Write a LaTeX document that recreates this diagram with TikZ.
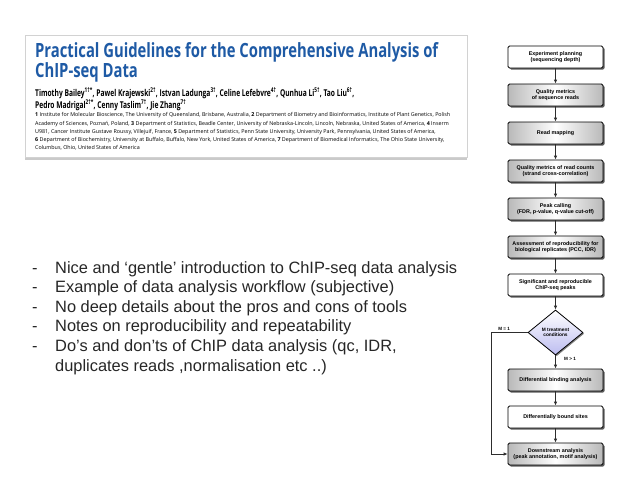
\documentclass[tikz,border=0pt]{standalone}
\usepackage{fontspec}
\setmainfont{Liberation Sans}
\newfontfamily\paperfont{Open Sans}
\usepackage{tikz}
\usetikzlibrary{shapes.geometric,arrows.meta,positioning,shadows}
\definecolor{titleblue}{RGB}{30,90,165}
\definecolor{lavender}{RGB}{188,188,240}
\definecolor{linegray}{RGB}{45,45,45}

\begin{document}
\begin{tikzpicture}[
    x=1pt, y=1pt,
    node distance=15.2pt,
    flow/.style={rectangle, draw=black, line width=0.8pt, rounded corners=1.5pt,
                 minimum width=95pt, minimum height=22pt, inner sep=1pt, align=center,
                 font=\fontsize{5.4}{6.4}\selectfont\bfseries,
                 drop shadow={shadow xshift=1.6pt, shadow yshift=-1.6pt, fill=black!80, opacity=0.8}},
    whitebox/.style={flow, fill=white},
    graybox/.style={flow, left color=gray!55, right color=gray!55, middle color=white},
    choice/.style={diamond, draw=black, line width=0.8pt, minimum width=55pt, minimum height=45pt,
                 inner sep=0pt, align=center, top color=white, bottom color=lavender,
                 font=\fontsize{4.8}{5.6}\selectfont\bfseries,
                 drop shadow={shadow xshift=1.2pt, shadow yshift=-1.2pt, fill=black!70, opacity=0.7}},
    arrow/.style={-{Latex[length=4pt,width=3.5pt]}, draw=linegray, line width=0.8pt},
    condlabel/.style={font=\fontsize{4.6}{5}\selectfont\bfseries, inner sep=0.5pt},
    papertext/.style={anchor=north west, inner sep=0pt, align=left}
]
\useasboundingbox (0,0) rectangle (640,-480);

% Paper header
\node[rectangle, draw=gray!35, fill=white, minimum width=442pt, minimum height=122pt,
      drop shadow={shadow xshift=0pt, shadow yshift=-3pt, fill=gray!70, opacity=0.6}]
      (paper) at (246,-96) {};
\begin{scope}[shift={(35,0)}, transform shape]
\node[papertext, xscale=0.756, text=titleblue, font=\fontsize{19.6}{18}\selectfont\paperfont\bfseries]
    (title) at (0,-42) {Practical Guidelines for the Comprehensive Analysis of\\ChIP-seq Data};
\node[papertext, xscale=0.71, font=\fontsize{9.4}{9.8}\selectfont\paperfont\bfseries] (authors) at (0,-87)
    {Timothy Bailey\textsuperscript{1\textdagger*}, Pawel Krajewski\textsuperscript{2\textdagger},
     Istvan Ladunga\textsuperscript{3\textdagger}, Celine Lefebvre\textsuperscript{4\textdagger},
     Qunhua Li\textsuperscript{5\textdagger}, Tao Liu\textsuperscript{6\textdagger},\\
     Pedro Madrigal\textsuperscript{2\textdagger*}, Cenny Taslim\textsuperscript{7\textdagger},
     Jie Zhang\textsuperscript{7\textdagger}};
\end{scope}
\node[papertext, font=\fontsize{5.36}{8.2}\selectfont\paperfont] (affil) at (35,-112.5)
    {\textbf{1} Institute for Molecular Bioscience, The University of Queensland, Brisbane, Australia, \textbf{2} Department of Biometry and Bioinformatics, Institute of Plant Genetics, Polish\\
     Academy of Sciences, Poznań, Poland, \textbf{3} Department of Statistics, Beadle Center, University of Nebraska-Lincoln, Lincoln, Nebraska, United States of America, \textbf{4} Inserm\\
     U981, Cancer Institute Gustave Roussy, Villejuif, France, \textbf{5} Department of Statistics, Penn State University, University Park, Pennsylvania, United States of America,\\
     \textbf{6} Department of Biochemistry, University at Buffalo, Buffalo, New York, United States of America, \textbf{7} Department of Biomedical Informatics, The Ohio State University,\\
     Columbus, Ohio, United States of America};

% Notes
\node[anchor=base west, inner sep=0pt, text=black!85, font=\fontsize{16.4}{19.6}\selectfont]
    (notes) at (32,-273) {\begin{tabular}[t]{@{}p{23pt}@{}l@{}}
    - & Nice and ‘gentle’ introduction to ChIP-seq data analysis\\
    - & Example of data analysis workflow (subjective)\\
    - & No deep details about the pros and cons of tools\\
    - & Notes on reproducibility and repeatability\\
    - & Do’s and don’ts of ChIP data analysis (qc, IDR,\\
      & duplicates reads ,normalisation etc ..)
    \end{tabular}};

% Workflow
\node[whitebox] (plan) at (555.5,-57) {Experiment planning\\(sequencing depth)};
\node[graybox, below=of plan] (seqqc) {Quality metrics\\of sequence reads};
\node[graybox, below=of seqqc] (mapping) {Read mapping};
\node[graybox, below=of mapping] (countqc) {Quality metrics of read counts\\(strand cross-correlation)};
\node[graybox, below=of countqc] (peaks) {Peak calling\\(FDR, p-value, q-value cut-off)};
\node[graybox, below=of peaks] (repro) {Assessment of reproducibility for\\biological replicates (PCC, IDR)};
\node[whitebox, below=of repro] (sigpeaks) {Significant and reproducible\\ChIP-seq peaks};
\node[choice, below=13.2pt of sigpeaks] (treat) {M treatment\\conditions};
\node[graybox, below=13.2pt of treat] (diffbind) {Differential binding analysis};
\node[whitebox, below=14.2pt of diffbind] (diffsites) {Differentially bound sites};
\node[graybox, below=14.2pt of diffsites] (downstream) {Downstream analysis\\(peak annotation, motif analysis)};

\node[condlabel, above left=1pt and 17pt of treat.west] (mone) {M = 1};
\node[condlabel, below right=1pt and 8pt of treat.south] (mmany) {M > 1};

% Arrows
\draw[arrow] (plan) -- (seqqc);
\draw[arrow] (seqqc) -- (mapping);
\draw[arrow] (mapping) -- (countqc);
\draw[arrow] (countqc) -- (peaks);
\draw[arrow] (peaks) -- (repro);
\draw[arrow] (repro) -- (sigpeaks);
\draw[arrow] (sigpeaks) -- (treat);
\draw[arrow] (treat) -- (diffbind);
\draw[arrow] (diffbind) -- (diffsites);
\draw[arrow] (diffsites) -- (downstream);
\draw[arrow] (treat.west) -- ++(-36,0) |- (downstream.west);
\end{tikzpicture}
\end{document}
